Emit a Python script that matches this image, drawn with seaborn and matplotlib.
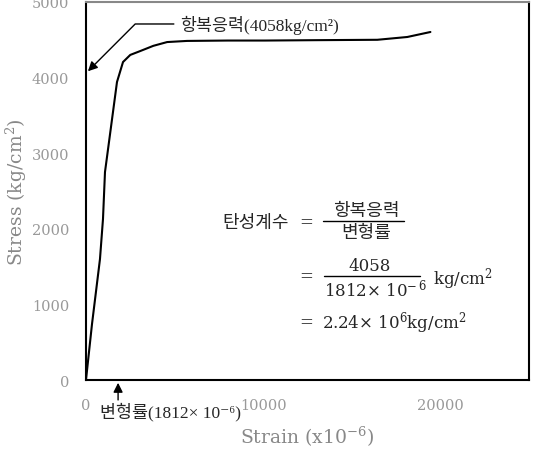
import matplotlib
matplotlib.use("Agg")
import matplotlib.pyplot as plt
import seaborn as sns
import pandas as pd

# stress-strain curve
strain = [0, 340, 790, 960, 1073, 1750, 2090, 2500, 3050, 3800, 4580, 5700, 8000,
          10100, 13000, 16440, 18130, 19435]
stress = [0, 740, 1600, 2130, 2751, 3942, 4206, 4300, 4350, 4420, 4470, 4485, 4490,
          4490, 4495, 4500, 4537, 4603]
x_ticks = [0, 10000, 20000]
y_ticks = [0, 1000, 2000, 3000, 4000, 5000]
yield_stress = 4058
yield_strain = 1812

df = pd.DataFrame({'strain': strain, 'stress': stress})

sns.set_style('white')
plt.rcParams['font.family'] = ['DejaVu Serif', 'Noto Sans CJK KR', 'DejaVu Sans']
plt.rcParams['mathtext.fontset'] = 'dejavuserif'

fig = plt.figure(figsize=(5.36, 4.52), dpi=100)
ax = fig.add_axes([0.1604, 0.157, 0.8266, 0.8364])

sns.lineplot(data=df, x='strain', y='stress', color='black', linewidth=1.5,
             sort=False, ax=ax)

ax.set_xlim(0, 25000)
ax.set_ylim(0, 5000)
ax.set_xticks(x_ticks)
ax.set_yticks(y_ticks)
ax.tick_params(axis='both', direction='in', length=4, color='#aaaaaa',
               labelcolor='#999999', labelsize=10.5)
ax.tick_params(axis='x', pad=13)
ax.tick_params(axis='y', pad=12)
for s in ['left', 'bottom', 'right']:
    ax.spines[s].set_color('black')
    ax.spines[s].set_linewidth(1.5)
ax.spines['top'].set_color('#888888')
ax.spines['top'].set_linewidth(1.5)

ax.set_xlabel('Strain (x10$^{-6}$)', color='#888888', fontsize=13.5, va='center')
ax.set_ylabel('Stress (kg/cm$^{2}$)', color='#888888', fontsize=13.5, va='center')
ax.xaxis.set_label_coords(0.5, -0.148)
ax.yaxis.set_label_coords(-0.156, 0.5)

callout = ['Liberation Serif', 'Noto Sans CJK KR', 'DejaVu Sans']

# yield stress callout
ax.annotate('항복응력(4058kg/cm²)', xy=(0, yield_stress), xytext=(5300, 4709),
            ha='left', va='center', fontsize=12.5, family=callout,
            arrowprops=dict(arrowstyle='-|>', color='black', lw=1,
                            mutation_scale=14,
                            connectionstyle='angle,angleA=180,angleB=45,rad=0'),
            annotation_clip=False)

# yield strain callout
ax.annotate('', xy=(yield_strain, 0), xytext=(yield_strain, -300),
            arrowprops=dict(arrowstyle='-|>', color='black', lw=1, mutation_scale=14),
            annotation_clip=False)
ax.text(790, -410, '변형률(1812× 10⁻⁶)', ha='left', va='center',
        fontsize=12.5, family=callout, clip_on=False)

# modulus formula
def fx(px):
    return (px - 86) / 443.0

def fy(py):
    return (381 - py) / 378.0

tr = ax.transAxes
kr = ['Noto Sans CJK KR', 'DejaVu Sans']
fs_kr = 13
fs = 12
ax.text(fx(222), fy(223), '탄성계수', ha='left', va='center', fontsize=fs_kr,
        family=kr, transform=tr)
ax.text(fx(306), fy(223), '=', ha='center', va='center', fontsize=fs, transform=tr)
ax.text(fx(366), fy(211), '항복응력', ha='center', va='center', fontsize=fs_kr,
        family=kr, transform=tr)
ax.plot([fx(323), fx(404)], [fy(222), fy(222)], color='black', lw=1, transform=tr)
ax.text(fx(366), fy(233), '변형률', ha='center', va='center', fontsize=fs_kr,
        family=kr, transform=tr)

ax.text(fx(306), fy(277), '=', ha='center', va='center', fontsize=fs, transform=tr)
ax.text(fx(370), fy(266), '4058', ha='center', va='center', fontsize=fs, transform=tr)
ax.plot([fx(324), fx(420)], [fy(277), fy(277)], color='black', lw=1, transform=tr)
ax.text(fx(376), fy(289), '1812× 10$^{-\\,6}$', ha='center', va='center',
        fontsize=fs, transform=tr)
ax.text(fx(433), fy(279), 'kg/cm$^{2}$', ha='left', va='center', fontsize=fs,
        transform=tr)

ax.text(fx(306), fy(323), '=', ha='center', va='center', fontsize=fs, transform=tr)
ax.text(fx(322), fy(323), '2.24× 10$^{6}$kg/cm$^{2}$', ha='left', va='center',
        fontsize=fs, transform=tr)

fig.savefig('out.png', dpi=100)
plt.close(fig)
